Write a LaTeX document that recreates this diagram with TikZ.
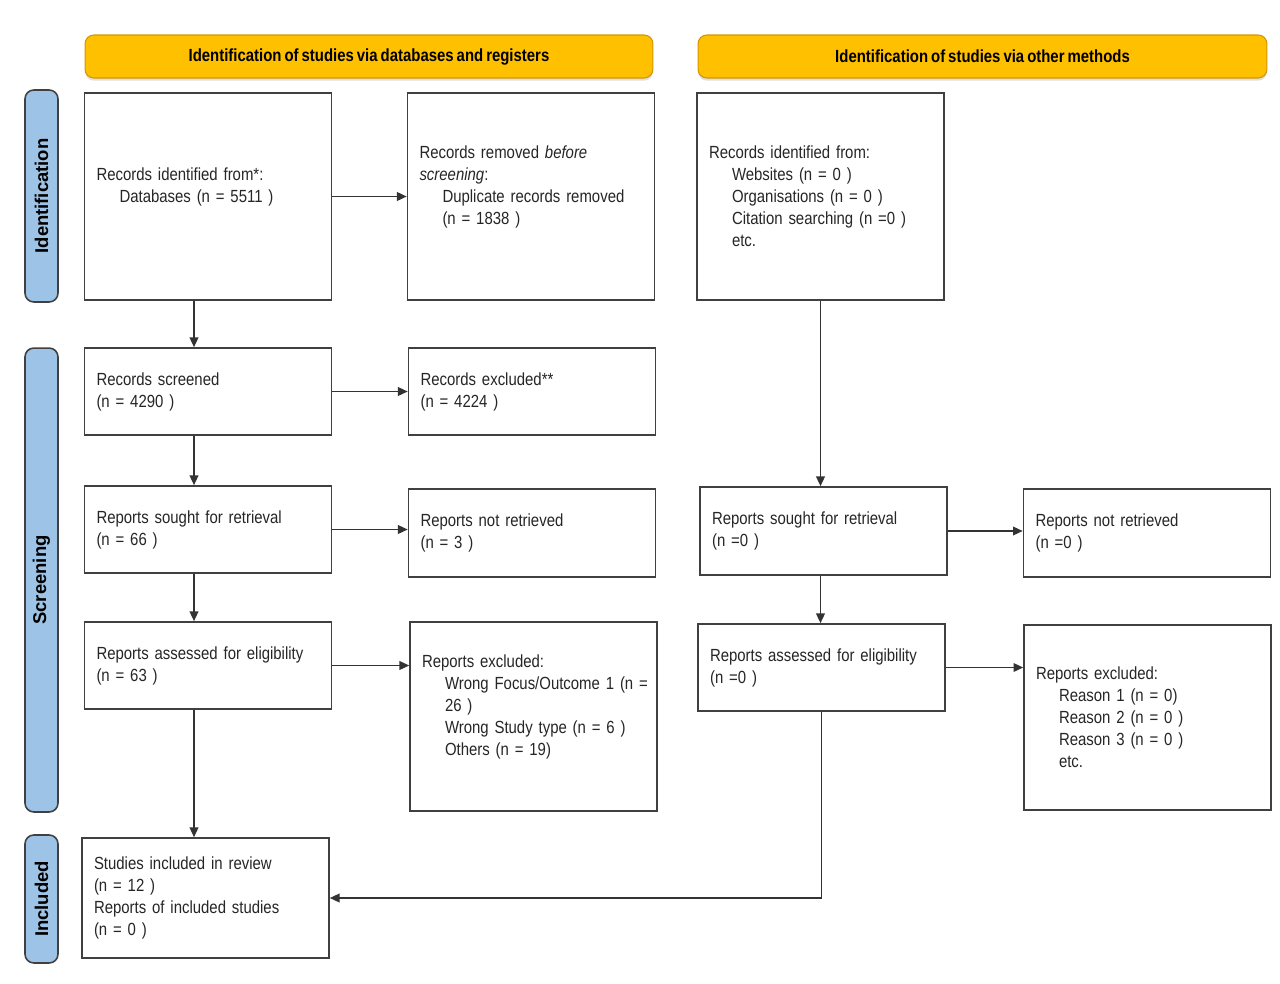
\documentclass[tikz,border=0pt]{standalone}
\usepackage{fontspec}
\setmainfont{Liberation Sans}[FakeStretch=0.85, WordSpace=0.72]
\newfontfamily\sidefont{Liberation Sans}
\usepackage{xcolor}
\definecolor{prismayellow}{RGB}{255,192,0}
\definecolor{prismaedge}{RGB}{214,150,0}
\definecolor{prismablue}{RGB}{157,195,230}
\usetikzlibrary{arrows.meta, shadows, calc}
\newcommand{\pind}{\hspace*{0.46cm}}

\begin{document}
\begin{tikzpicture}[
  x=0.02cm, y=-0.02cm,
  hdr/.style={rectangle, rounded corners=5pt, fill=prismayellow, draw=prismaedge, line width=0.6pt,
              minimum height=0.86cm, align=center, font=\fontsize{10}{12}\selectfont\bfseries,
              drop shadow={opacity=0.25, shadow xshift=0pt, shadow yshift=-1.5pt}},
  phase/.style={rectangle, rounded corners=5pt, fill=prismablue, draw=black!75, line width=0.9pt,
                rotate=90, minimum height=0.66cm, font=\sidefont\fontsize{10.5}{12}\selectfont\bfseries},
  pbox/.style={rectangle, draw=black!75, line width=1pt, fill=white, minimum width=4.94cm,
               text width=4.46cm, inner xsep=0.24cm, align=left, text=black!85,
               font=\fontsize{10}{12.5}\selectfont},
  arr/.style={-{Triangle[length=5.5pt, width=5pt]}, line width=0.7pt, draw=black!80}
]
\useasboundingbox (0,0) rectangle (1280,983);

% headers
\node[hdr, minimum width=11.36cm] (hdrdb) at (369,56.5) {Identification of studies via databases and registers};
\node[hdr, minimum width=11.38cm] (hdrot) at (982.5,56.5) {Identification of studies via other methods};

% phases
\node[phase, minimum width=4.24cm] (phid)  at (41.5,196) {Identification};
\node[phase, minimum width=9.28cm] (phscr) at (41.5,580) {Screening};
\node[phase, minimum width=2.56cm] (phinc) at (41.5,899) {Included};

% databases and registers
\node[pbox, minimum height=4.14cm] (ident) at (208,196.5)
  {Records identified from*:\\\pind Databases (n = 5511 )\\\mbox{}};
\node[pbox, minimum height=4.14cm] (removed) at (531,196.5)
  {Records removed \textit{before}\\\textit{screening}:\\\pind Duplicate records removed\\\pind (n = 1838 )\\\mbox{}};
\node[pbox, minimum height=1.74cm] (screened) at (208,391.5)
  {Records screened\\(n = 4290 )};
\node[pbox, minimum height=1.74cm] (excl) at (532,391.5)
  {Records excluded**\\(n = 4224 )};
\node[pbox, minimum height=1.74cm] (sought) at (208,529.5)
  {Reports sought for retrieval\\(n = 66 )};
\node[pbox, minimum height=1.76cm] (notret) at (532,533)
  {Reports not retrieved\\(n = 3 )};
\node[pbox, minimum height=1.74cm] (assessed) at (208,665.5)
  {Reports assessed for eligibility\\(n = 63 )};
\node[pbox, minimum height=3.78cm] (reasons) at (533.5,716.5)
  {Reports excluded:\\\pind\mbox{Wrong Focus/Outcome 1 (n =}\\\pind 26 )\\\pind Wrong Study type (n = 6 )\\\pind Others (n = 19)\\\mbox{}};
\node[pbox, minimum height=2.4cm] (incl) at (205.5,898)
  {Studies included in review\\(n = 12 )\\Reports of included studies\\(n = 0 )};

% other methods
\node[pbox, minimum height=4.14cm] (identot) at (820.5,196.5)
  {Records identified from:\\\pind Websites (n = 0 )\\\pind Organisations (n = 0 )\\\pind Citation searching (n =0 )\\\pind etc.};
\node[pbox, minimum height=1.76cm] (soughtot) at (823.5,531)
  {Reports sought for retrieval\\(n =0 )};
\node[pbox, minimum height=1.76cm] (notretot) at (1147,533)
  {Reports not retrieved\\(n =0 )};
\node[pbox, minimum height=1.74cm] (assessedot) at (821.5,667.5)
  {Reports assessed for eligibility\\(n =0 )};
\node[pbox, minimum height=3.7cm] (reasonsot) at (1147.5,717.5)
  {Reports excluded:\\\pind Reason 1 (n = 0)\\\pind Reason 2 (n = 0 )\\\pind Reason 3 (n = 0 )\\\pind etc.};

% connectors
\coordinate (lcol) at (194,0);
\draw[arr] (ident.east) -- (ident.east -| removed.west);
\draw[arr] (ident.south -| lcol) -- (screened.north -| lcol);
\draw[arr] (screened.east) -- (screened.east -| excl.west);
\draw[arr] (screened.south -| lcol) -- (sought.north -| lcol);
\draw[arr] (sought.east) -- (sought.east -| notret.west);
\draw[arr] (sought.south -| lcol) -- (assessed.north -| lcol);
\draw[arr] (assessed.east) -- (assessed.east -| reasons.west);
\draw[arr] (assessed.south -| lcol) -- (incl.north -| lcol);
\draw[arr] (identot.south) -- (identot.south |- soughtot.north);
\draw[arr] (soughtot.east) -- (soughtot.east -| notretot.west);
\draw[arr] (soughtot.south -| identot.south) -- (assessedot.north -| identot.south);
\draw[arr] (assessedot.east) -- (assessedot.east -| reasonsot.west);
\draw[arr] (assessedot.south) |- (incl.east);
\end{tikzpicture}
\end{document}
